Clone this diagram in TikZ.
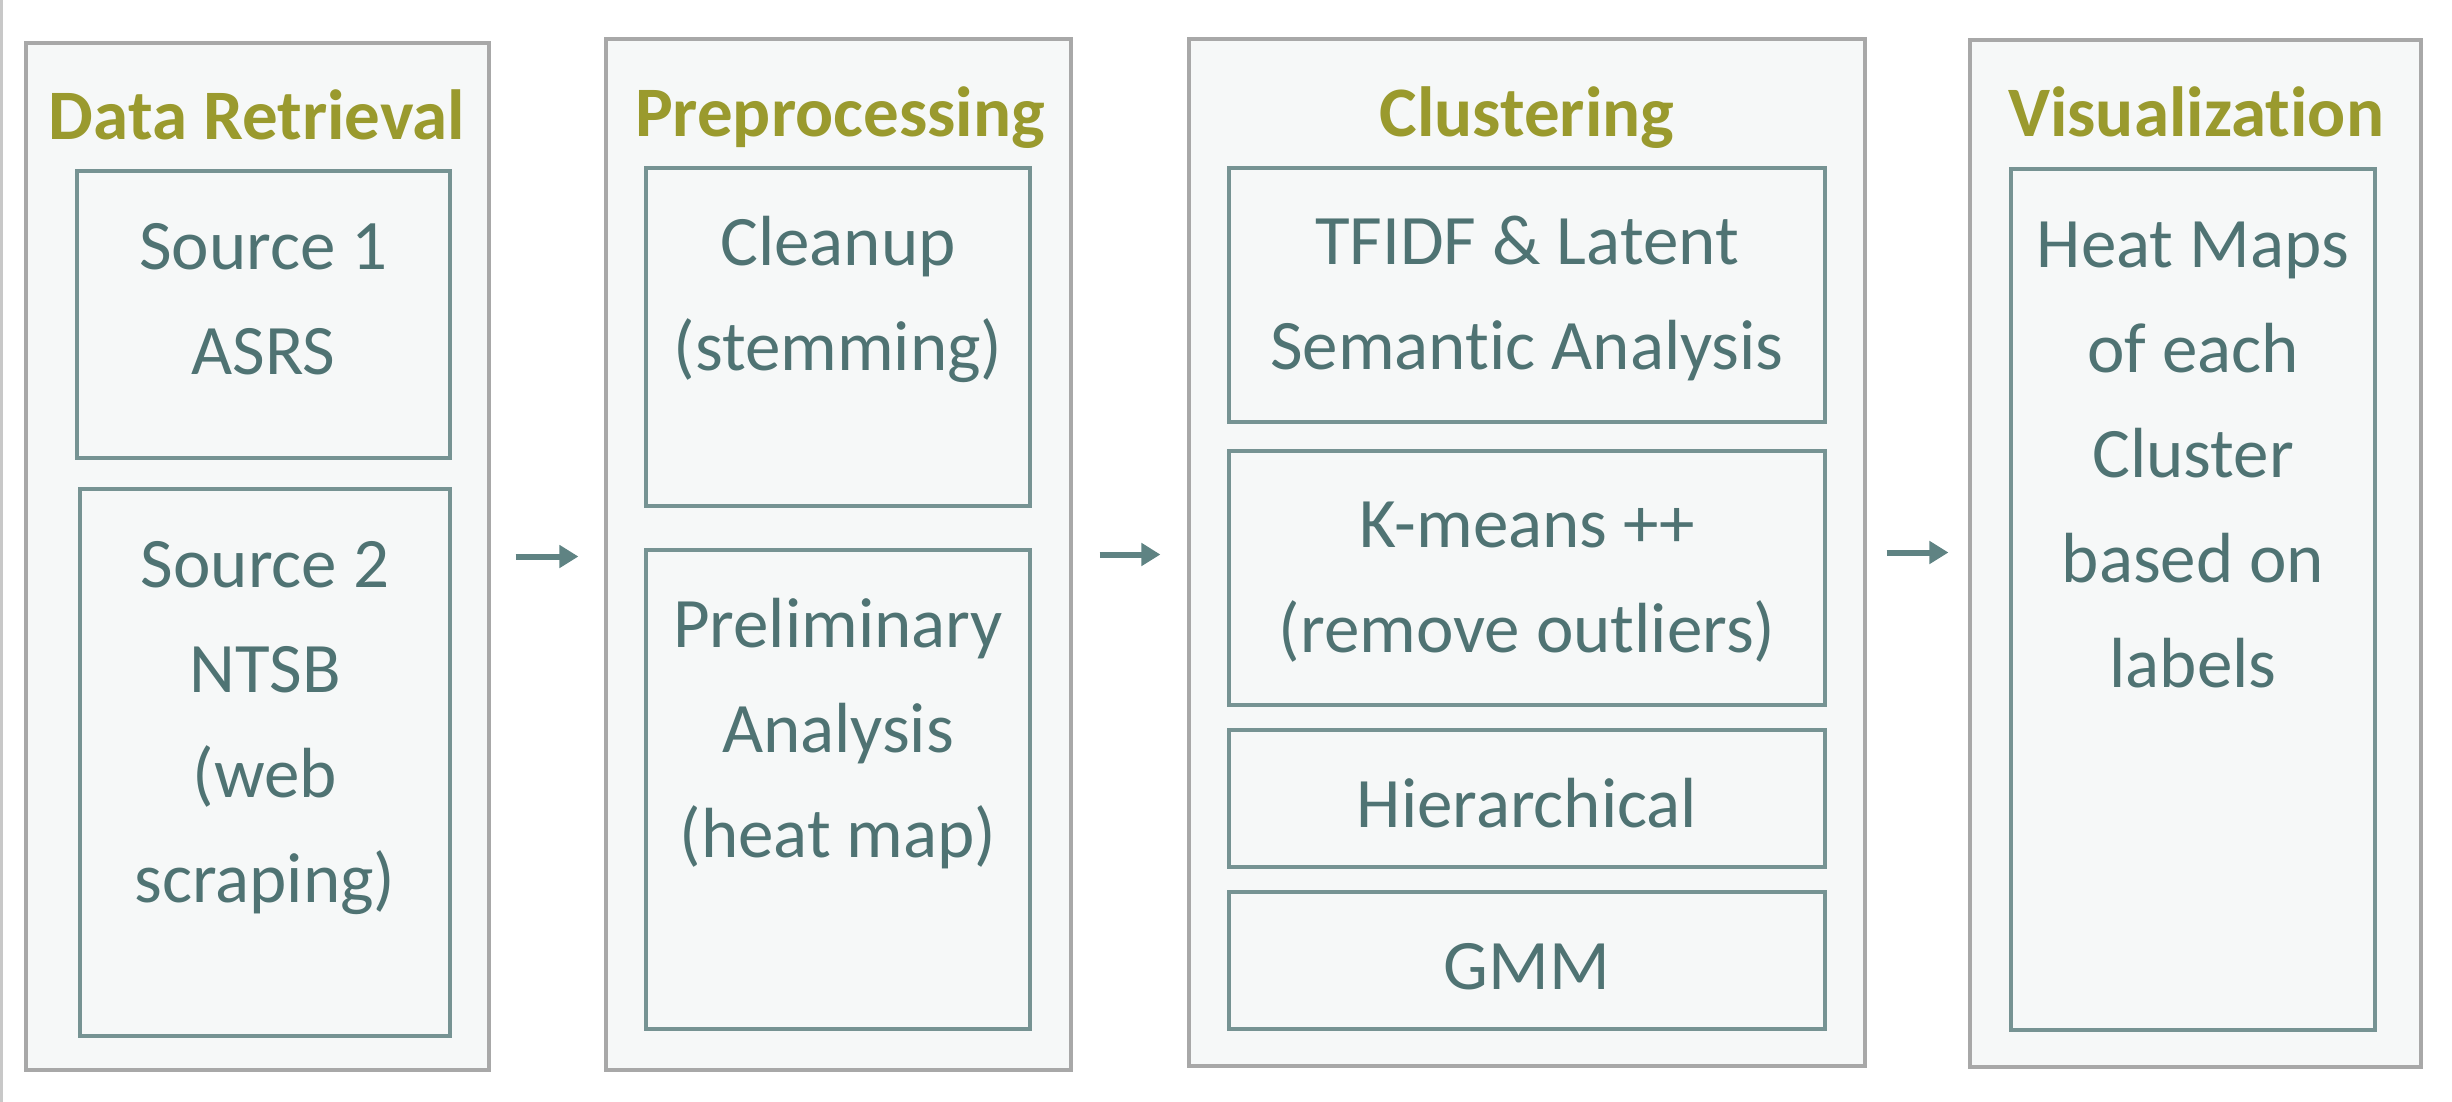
\documentclass[tikz,border=0pt]{standalone}
\usepackage{fontspec}
\setmainfont[RawFeature={-liga;-calt;-dlig}]{Carlito}
\usetikzlibrary{arrows.meta,fit}
\definecolor{ttitle}{HTML}{9A9A2E}
\definecolor{ttext}{HTML}{4F7373}
\definecolor{tinner}{HTML}{769393}
\definecolor{tarrow}{HTML}{5F8383}
\definecolor{touter}{HTML}{A8A8A8}
\definecolor{tfill}{HTML}{F6F8F8}
\definecolor{tedge}{HTML}{C8C8C8}
\begin{document}
\begin{tikzpicture}[x=0.5pt,y=-0.5pt,
  outerbox/.style={draw=touter, line width=1.6pt, fill=tfill, inner sep=0pt},
  innerbox/.style={draw=tinner, line width=2.2pt, inner sep=0pt},
  ttl/.style={font=\fontsize{35.5}{40}\selectfont\bfseries, text=ttitle, inner sep=0pt, anchor=base},
  body/.style={font=\fontsize{35.5}{52.5}\selectfont, text=ttext, inner sep=0pt, anchor=north, align=center},
  flow/.style={draw=tarrow, line width=3pt, -{Triangle[length=9.5pt,width=11pt]}}]
\useasboundingbox (0,0) rectangle (2452,1102);
\fill[white] (0,0) rectangle (2452,1102);
\draw[tedge, line width=1.2pt] (1.5,0) -- (1.5,1102);

% outer columns
\node[outerbox, fit={(26,43) (489,1070)}] (o1) {};
\node[outerbox, fit={(606,39) (1071,1070)}] (o2) {};
\node[outerbox, fit={(1189,39) (1865,1066)}] (o3) {};
\node[outerbox, fit={(1970,40) (2421,1067)}] (o4) {};

% titles
\node[ttl] (t1) at (257,140) {Data Retrieval};
\node[ttl] (t2) at (840,136) {Preprocessing};
\node[ttl] (t3) at (1527,136) {Clustering};
\node[ttl] (t4) at (2196,137) {Visualization};

% inner boxes
\node[innerbox, fit={(77,171) (450,458)}] (s1) {};
\node[innerbox, fit={(80,489) (450,1036)}] (s2) {};
\node[innerbox, fit={(646,168) (1030,506)}] (p1) {};
\node[innerbox, fit={(646,550) (1030,1029)}] (p2) {};
\node[innerbox, fit={(1229,168) (1825,422)}] (c1) {};
\node[innerbox, fit={(1229,451) (1825,705)}] (c2) {};
\node[innerbox, fit={(1229,730) (1825,867)}] (c3) {};
\node[innerbox, fit={(1229,892) (1825,1029)}] (c4) {};
\node[innerbox, fit={(2011,169) (2375,1030)}] (v1) {};

% texts (first baseline minus strut height 73.5px)
\node[body] (s1t) at (263.5,195.5) {\strut Source 1~\\ASRS};
\node[body] (s2t) at (265,513.5) {\strut Source 2~\\NTSB\\(web~\\scraping)};
\node[body] (p1t) at (838,191.5) {\strut Cleanup\\(stemming)};
\node[body] (p2t) at (838,573.5) {\strut Preliminary\\Analysis\\(heat map)};
\node[body] (c1t) at (1527,190.5) {\strut TFIDF \& Latent\\Semantic Analysis};
\node[body] (c2t) at (1527,473.5) {\strut K-means ++\\(remove outliers)};
\node[body] (c3t) at (1527,753.5) {\strut Hierarchical};
\node[body] (c4t) at (1527,915.5) {\strut GMM};
\node[body] (v1t) at (2193,193.5) {\strut Heat Maps\\of each\\Cluster\\based on\\labels};

% arrows
\draw[flow, shorten <=12.5pt, shorten >=13pt] (o1.east) -- (o1.east -| o2.west);
\draw[flow, shorten <=13.5pt, shorten >=13.5pt] (o2.east) -- (o2.east -| o3.west);
\draw[flow, shorten <=10pt, shorten >=10pt] (o3.east) -- (o3.east -| o4.west);
\end{tikzpicture}
\end{document}
